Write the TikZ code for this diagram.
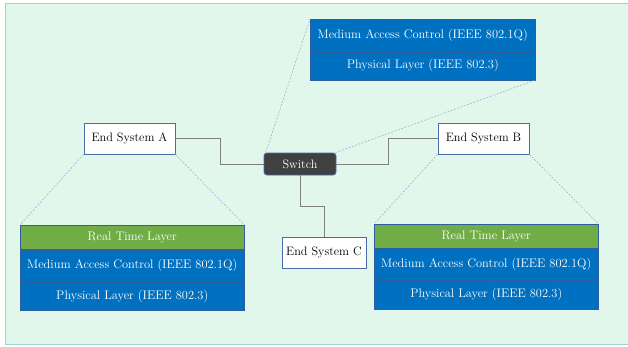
\documentclass[tikz,border=0pt]{standalone}
\usetikzlibrary{positioning}
\definecolor{bgmint}{HTML}{E2F7EB}
\definecolor{bgedge}{HTML}{9CD3CE}
\definecolor{layblue}{HTML}{0070C0}
\definecolor{laygreen}{HTML}{70AD47}
\definecolor{layedge}{HTML}{2F5F9F}
\definecolor{swgray}{HTML}{404040}
\definecolor{esedge}{HTML}{4A6AAA}
\definecolor{zoomline}{HTML}{8EAADB}
\definecolor{linkgray}{HTML}{7F7F7F}

\tikzset{
  endsys/.style={draw=esedge,fill=white,line width=0.7pt,minimum width=91pt,minimum height=31pt,inner sep=0pt,font=\fontsize{12.2}{14}\selectfont},
  switchbox/.style={draw=esedge,fill=swgray,line width=0.7pt,rounded corners=3pt,text=white,minimum width=72pt,minimum height=22pt,inner sep=0pt,font=\fontsize{12.2}{14}\selectfont},
  layer/.style={draw=layedge,line width=0.5pt,text=white,minimum width=224pt,inner sep=0pt,font=\fontsize{12.4}{14}\selectfont},
  rtlayer/.style={layer,fill=laygreen,minimum height=24pt},
  maclayer/.style={layer,fill=layblue,minimum height=#1},
  phylayer/.style={layer,fill=layblue,minimum height=#1},
  link/.style={draw=linkgray,line width=0.8pt},
  zoomed/.style={draw=zoomline,line width=0.5pt,dash pattern=on 2pt off 1.5pt}
}

\begin{document}
\begin{tikzpicture}[x=1pt,y=-1pt]
\useasboundingbox (0,0) rectangle (628,346);
\fill[bgmint](5,3) rectangle (628,344);
\draw[bgedge,line width=0.8pt](628,3)--(5,3)--(5,344)--(628,344);

\node[endsys](esA) at (129.5,138.5){End System A};
\node[endsys](esB) at (483.5,138.5){End System B};
\node[endsys,minimum width=84pt](esC) at (324,252.5){End System C};
\node[switchbox](sw) at (300,164){Switch};

% switch layers
\node[maclayer=32pt,minimum width=225pt,anchor=north west](macS) at (310,19){Medium Access Control (IEEE 802.1Q)};
\node[phylayer=28pt,minimum width=225pt,below=0pt of macS](phyS){Physical Layer (IEEE 802.3)};

% end system A layers
\node[rtlayer,anchor=north west](rtA) at (20,225){Real Time Layer};
\node[maclayer=32pt,below=0pt of rtA](macA){Medium Access Control (IEEE 802.1Q)};
\node[phylayer=28pt,below=0pt of macA](phyA){Physical Layer (IEEE 802.3)};

% end system B layers
\node[rtlayer,anchor=north west](rtB) at (374,224){Real Time Layer};
\node[maclayer=31pt,below=0pt of rtB](macB){Medium Access Control (IEEE 802.1Q)};
\node[phylayer=29pt,below=0pt of macB](phyB){Physical Layer (IEEE 802.3)};

\draw[link](esA.east)--++(45,0)|-(sw.west);
\draw[link](sw.east)--++(52,0)|-(esB.west);
\draw[link](sw.south)--++(0,31)-|(esC.north);

\draw[zoomed](esA.south west)--(rtA.north west);
\draw[zoomed](esA.south east)--(rtA.north east);
\draw[zoomed](esB.south west)--(rtB.north west);
\draw[zoomed](esB.south east)--(rtB.north east);
\draw[zoomed]([xshift=2pt]sw.north west)--(macS.north west);
\draw[zoomed]([xshift=-1pt]sw.north east)--(phyS.south east);
\end{tikzpicture}
\end{document}
